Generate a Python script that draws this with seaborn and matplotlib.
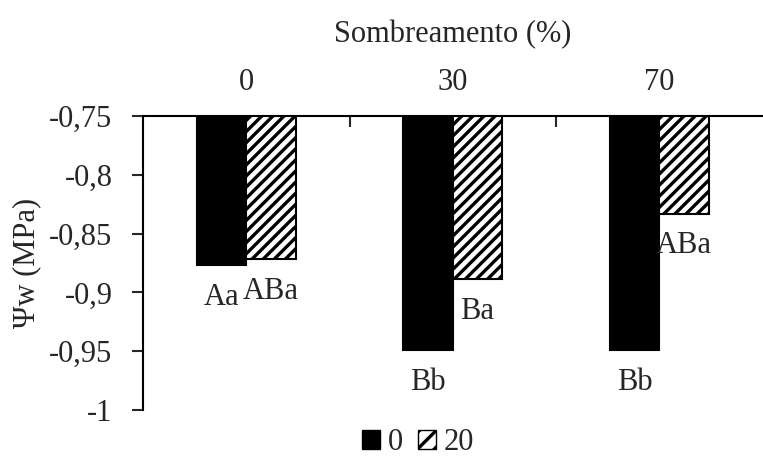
import matplotlib
matplotlib.use("Agg")
import matplotlib.pyplot as plt
import seaborn as sns
import pandas as pd
from matplotlib.patches import Patch

categories = ["0", "30", "70"]
series_names = ["0", "20"]
values_0 = [-0.877, -0.949, -0.949]
values_20 = [-0.872, -0.889, -0.833]
labels_0 = ["Aa", "Bb", "Bb"]
labels_20 = ["ABa", "Ba", "ABa"]
y_ticks = [-1.0, -0.95, -0.9, -0.85, -0.8, -0.75]
y_tick_labels = ["-1", "-0,95", "-0,9", "-0,85", "-0,8", "-0,75"]

df = pd.DataFrame({
    "cat": categories * 2,
    "serie": [series_names[0]] * 3 + [series_names[1]] * 3,
    "val": values_0 + values_20,
})

sns.set_style("white")
plt.rcParams['font.family'] = ['Liberation Serif', 'DejaVu Serif']
plt.rcParams['hatch.linewidth'] = 2.4
plt.rcParams['hatch.color'] = 'black'
FS = 22

fig = plt.figure(figsize=(7.63, 4.59), dpi=100)
ax = fig.add_axes([0.1874, 0.1068, 0.812, 0.6405])

sns.barplot(data=df, x="cat", y="val", hue="serie", order=categories,
            hue_order=series_names, palette=["black", "white"],
            width=0.48, gap=0, edgecolor="black", linewidth=1.5,
            legend=False, ax=ax, errorbar=None)

for cont_i, cont in enumerate(ax.containers):
    for p in cont:
        if cont_i == 1:
            p.set_hatch("///")
            p.set_facecolor("white")
        p.set_edgecolor("black")

ax.set_ylim(-1.0, -0.75)
ax.set_xlim(-0.5, 2.5)
ax.set_yticks(y_ticks)
ax.set_yticklabels(y_tick_labels, fontsize=FS)

ax.xaxis.tick_top()
ax.xaxis.set_label_position("top")
ax.set_xticks(range(len(categories)))
ax.set_xticklabels(categories, fontsize=FS)
ax.set_xticks([0.5, 1.5], minor=True)
ax.tick_params(axis="x", which="major", length=0, pad=14)
ax.tick_params(axis="x", which="minor", direction="in", length=8, width=1.5, top=True, bottom=False)
ax.tick_params(axis="y", which="major", direction="out", length=8, width=1.5, left=True, pad=14)
ax.set_xlabel("Sombreamento (%)", fontsize=FS, labelpad=18)
ax.set_ylabel("\u03a8w (MPa)", fontsize=FS, labelpad=6)

for s in ["right", "bottom"]:
    ax.spines[s].set_visible(False)
for s in ["top", "left"]:
    ax.spines[s].set_visible(True)
    ax.spines[s].set_color("black")
    ax.spines[s].set_linewidth(1.5)

for cont, labs in zip(ax.containers, [labels_0, labels_20]):
    for p, lab in zip(cont, labs):
        x = p.get_x() + p.get_width() / 2
        y = p.get_y() + p.get_height()
        ax.annotate(lab, (x, y), xytext=(0, -32), textcoords="offset pixels",
                    ha="center", va="center", fontsize=FS, annotation_clip=False)

handles = [Patch(facecolor="black", edgecolor="black", label=series_names[0]),
           Patch(facecolor="white", edgecolor="black", hatch="//", label=series_names[1])]
fig.legend(handles=handles, loc="lower center", bbox_to_anchor=(0.548, 0.0), ncol=2,
           frameon=False, fontsize=FS, handlelength=0.6, handleheight=0.6,
           handletextpad=0.25, columnspacing=0.5, borderaxespad=0, borderpad=0.05)

fig.savefig("out.png", dpi=100)
